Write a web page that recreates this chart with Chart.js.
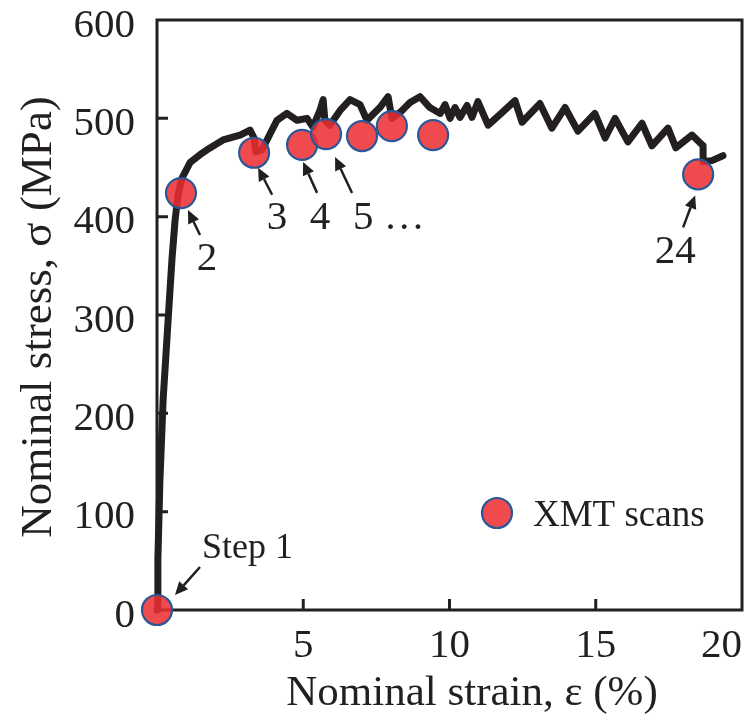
<!DOCTYPE html>
<html>
<head>
<meta charset="utf-8">
<script src="https://cdn.jsdelivr.net/npm/chart.js@4.4.0/dist/chart.umd.min.js"></script>
<style>
  html, body { margin: 0; padding: 0; background: #fff; }
  canvas { display: block; }
</style>
</head>
<body>
<canvas id="stressStrain" width="754" height="717"></canvas>
<script>
// tensile curve, nominal strain (%) vs nominal stress (MPa)
const strain = [
  0, 0.03, 0.10, 0.21, 0.38, 0.51, 0.62, 0.72, 0.85, 1.13, 1.47, 1.71, 2.26, 2.84, 3.18,
  3.32, 3.38, 3.59, 3.76, 4.10, 4.44, 4.79, 5.13, 5.33, 5.57, 5.68, 5.74, 5.91, 6.26, 6.60,
  6.94, 7.18, 7.62, 7.90, 8.03, 8.31, 8.65, 8.99, 9.33, 9.68, 9.85, 10.02, 10.19, 10.36, 10.60,
  10.77, 10.97, 11.32, 11.73, 12.24, 12.48, 13.09, 13.50, 13.95, 14.39, 14.97, 15.32, 15.66, 16.10,
  16.58, 16.92, 17.47, 17.74, 18.29, 18.67, 18.67, 18.97, 19.35
];
const stress = [
  0, 51, 132, 214, 295, 356, 397, 422, 439, 455, 463, 468, 478, 483, 488,
  480, 466, 468, 478, 498, 505, 498, 500, 491, 508, 519, 498, 493, 508, 519,
  514, 498, 511, 522, 500, 506, 516, 522, 511, 505, 514, 500, 511, 501, 513,
  501, 517, 493, 504, 518, 496, 515, 490, 511, 487, 505, 480, 500, 476,
  495, 472, 490, 470, 483, 472, 456, 457, 462
];

// XMT scan steps
const scanStrain = [0, 0.82, 3.32, 4.96, 5.78, 7.01, 8.03, 9.44, 18.5];
const scanStress = [0, 424, 465, 473, 484, 482, 492, 483, 443];
const scanTags = ['Step 1', '2', '3', '4', '5 \u2026', '', '', '', '24'];

const xTicks = [0, 5, 10, 15, 20];
const yTicks = [0, 100, 200, 300, 400, 500, 600];

const ink = '#231f20';
const serif = "'Liberation Serif', 'Times New Roman', serif";

// arrow geometry (px) relative to each tagged scan point: head, tail, text anchor
const tagLayout = {
  0: { head: [18, -15], tail: [43, -43], text: [45, -52], align: 'left', base: 'alphabetic', size: 36 },
  1: { head: [7, 17], tail: [19, 42], text: [26, 66], align: 'center', base: 'middle', size: 41 },
  2: { head: [4, 15], tail: [18, 42], text: [23, 65], align: 'center', base: 'middle', size: 41 },
  3: { head: [1, 17], tail: [15, 48], text: [18, 73], align: 'center', base: 'middle', size: 41 },
  4: { head: [9, 23], tail: [26, 59], text: [27, 84], align: 'left', base: 'middle', size: 41 },
  8: { head: [-3, 21], tail: [-15, 53], text: [-23, 78], align: 'center', base: 'middle', size: 41 }
};

function drawArrow(ctx, x1, y1, x2, y2) {
  const ang = Math.atan2(y2 - y1, x2 - x1);
  const len = 13, half = 6;
  const bx = x2 - len * Math.cos(ang), by = y2 - len * Math.sin(ang);
  ctx.beginPath();
  ctx.moveTo(x1, y1);
  ctx.lineTo(bx, by);
  ctx.stroke();
  ctx.beginPath();
  ctx.moveTo(x2, y2);
  ctx.lineTo(bx + half * Math.sin(ang), by - half * Math.cos(ang));
  ctx.lineTo(bx - half * Math.sin(ang), by + half * Math.cos(ang));
  ctx.closePath();
  ctx.fill();
}

const framePlugin = {
  id: 'frame',
  beforeDatasetsDraw(chart) {
    const { ctx, chartArea: a, scales: { x, y } } = chart;
    ctx.save();
    ctx.strokeStyle = ink;
    ctx.lineWidth = 3;
    ctx.strokeRect(a.left, a.top, a.right - a.left, a.bottom - a.top);
    // inward tick marks on left and bottom
    ctx.beginPath();
    yTicks.slice(1, -1).forEach(v => {
      const py = y.getPixelForValue(v);
      ctx.moveTo(a.left, py);
      ctx.lineTo(a.left + 11, py);
    });
    xTicks.slice(1, -1).forEach(v => {
      const px = x.getPixelForValue(v);
      ctx.moveTo(px, a.bottom);
      ctx.lineTo(px, a.bottom - 11);
    });
    ctx.stroke();
    ctx.restore();
  },
  afterDraw(chart) {
    const { ctx, chartArea: a, scales: { x, y } } = chart;
    ctx.save();
    ctx.fillStyle = ink;
    ctx.strokeStyle = ink;
    ctx.lineWidth = 2.5;

    // step labels with arrows
    Object.keys(tagLayout).forEach(k => {
      const i = Number(k), t = tagLayout[k];
      const px = x.getPixelForValue(scanStrain[i]);
      const py = y.getPixelForValue(scanStress[i]);
      drawArrow(ctx, px + t.tail[0], py + t.tail[1], px + t.head[0], py + t.head[1]);
      ctx.font = t.size + 'px ' + serif;
      ctx.textAlign = t.align;
      ctx.textBaseline = t.base;
      ctx.fillText(scanTags[i], px + t.text[0], py + t.text[1]);
    });

    // legend
    const ds = chart.data.datasets[0];
    ctx.beginPath();
    ctx.arc(497, 513, 15, 0, Math.PI * 2);
    ctx.fillStyle = ds.pointBackgroundColor;
    ctx.fill();
    ctx.lineWidth = 2.2;
    ctx.strokeStyle = ds.pointBorderColor;
    ctx.stroke();
    ctx.fillStyle = ink;
    ctx.font = '37px ' + serif;
    ctx.textAlign = 'left';
    ctx.textBaseline = 'alphabetic';
    ctx.fillText(ds.label, 533, 526);

    // axis titles
    ctx.font = '43px ' + serif;
    ctx.textAlign = 'center';
    ctx.fillText('Nominal strain, \u03b5 (%)', 472, 705);
    ctx.font = '45px ' + serif;
    ctx.translate(51, (a.top + a.bottom) / 2 + 2);
    ctx.rotate(-Math.PI / 2);
    ctx.fillText('Nominal stress, \u03c3 (MPa)', 0, 0);
    ctx.restore();
  }
};

const tickFont = { family: serif, size: 41 };

new Chart(document.getElementById('stressStrain').getContext('2d'), {
  data: {
    datasets: [
      {
        type: 'scatter',
        label: 'XMT scans',
        data: scanStrain.map((v, i) => ({ x: v, y: scanStress[i] })),
        pointRadius: 15,
        pointHoverRadius: 15,
        pointBackgroundColor: 'rgba(236, 45, 50, 0.86)',
        pointBorderColor: '#2b5797',
        pointBorderWidth: 2.2,
        clip: false,
        order: 1
      },
      {
        type: 'line',
        label: 'Stress-strain',
        data: strain.map((v, i) => ({ x: v, y: stress[i] })),
        borderColor: ink,
        borderWidth: 7,
        borderJoinStyle: 'round',
        borderCapStyle: 'round',
        pointRadius: 0,
        tension: 0,
        fill: false,
        clip: false,
        order: 2
      }
    ]
  },
  options: {
    responsive: false,
    animation: false,
    events: [],
    layout: { padding: { left: 0, right: 12, top: 20, bottom: 0 }, autoPadding: false },
    plugins: { legend: { display: false }, tooltip: { enabled: false } },
    scales: {
      x: {
        type: 'linear',
        min: 0,
        max: 20,
        afterBuildTicks(s) { s.ticks = xTicks.map(v => ({ value: v })); },
        afterFit(s) { s.height = 107; s.paddingLeft = 0; s.paddingRight = 0; },
        ticks: {
          callback: v => (v === 0 ? '' : v),
          align: 'inner',
          padding: 12,
          maxRotation: 0,
          autoSkip: false,
          font: tickFont,
          color: ink
        },
        grid: { display: false, drawTicks: false },
        border: { display: false }
      },
      y: {
        type: 'linear',
        min: 0,
        max: 600,
        afterBuildTicks(s) { s.ticks = yTicks.map(v => ({ value: v })); },
        afterFit(s) { s.width = 157; s.paddingTop = 0; s.paddingBottom = 0; },
        ticks: {
          padding: 22,
          labelOffset: 6,
          autoSkip: false,
          font: tickFont,
          color: ink
        },
        grid: { display: false, drawTicks: false },
        border: { display: false }
      }
    }
  },
  plugins: [framePlugin]
});
</script>
</body>
</html>
